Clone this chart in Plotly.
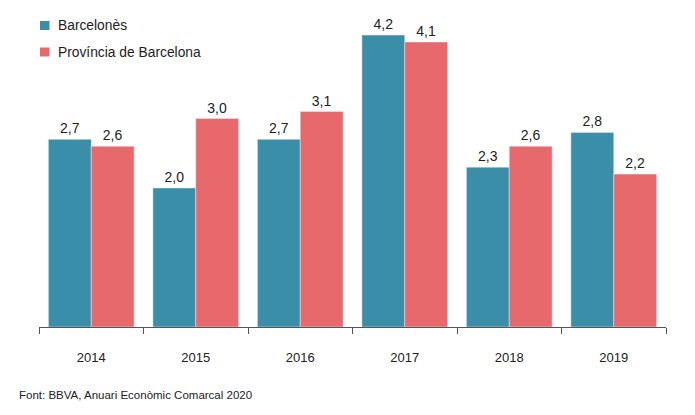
import plotly.graph_objects as go

# Dades
years = ["2014", "2015", "2016", "2017", "2018", "2019"]
barcelones = [2.7, 2.0, 2.7, 4.2, 2.3, 2.8]
provincia = [2.6, 3.0, 3.1, 4.1, 2.6, 2.2]
series_names = ["Barcelonès", "Província de Barcelona"]
source_text = "Font: BBVA, Anuari Econòmic Comarcal 2020"

teal = "#3a8ea7"
salmon = "#e8696b"
font_family = "Liberation Sans, Arial, sans-serif"

# the page body adds an 8px offset, so the figure is drawn 8px smaller
OFF = 8
W, H = 695 - OFF, 415 - OFF
ML, MR, MT, MB = 0, 29, 0, 88
PW, PH = W - ML - MR, H - MT - MB


def px(x, y):
    # window pixel position -> paper coords
    return (x - OFF - ML) / PW, (H - MB - (y - OFF)) / PH


fig = go.Figure()

for name, vals, col in zip(series_names, [barcelones, provincia], [teal, salmon]):
    fig.add_trace(go.Bar(x=years, y=vals, name=name, marker_color=col,
                         texttemplate="%{y:.1f}", textposition="outside", cliponaxis=False,
                         textfont=dict(size=14, color="#222")))

# legend drawn by hand (squares + text) to match the original spacing
shapes = []
annotations = []
for i, (name, col) in enumerate(zip(series_names, [teal, salmon])):
    yc = 25.5 + i * 26.5
    x0, y0 = px(40, yc - 4.5)
    x1, y1 = px(49.5, yc + 4.5)
    shapes.append(dict(type="rect", xref="paper", yref="paper", x0=x0, x1=x1, y0=y1, y1=y0,
                       fillcolor=col, line=dict(width=0)))
    tx, ty = px(56, yc)
    annotations.append(dict(text=name, x=tx, y=ty, xref="paper", yref="paper", showarrow=False,
                            xanchor="left", yanchor="middle", font=dict(size=13.8, color="#222")))

sx, sy = px(17, 395)
annotations.append(dict(text=source_text, x=sx, y=sy, xref="paper", yref="paper", showarrow=False,
                        xanchor="left", yanchor="middle", font=dict(size=11.5, color="#222")))

fig.update_layout(
    width=W, height=H,
    margin=dict(l=ML, r=MR, t=MT, b=MB),
    plot_bgcolor="white", paper_bgcolor="white",
    separators=",.",
    barmode="group", bargap=0.18, bargroupgap=0,
    font=dict(family=font_family, color="#222"),
    showlegend=False,
    shapes=shapes,
    annotations=annotations,
)

fig.update_xaxes(domain=[(39 - OFF) / PW, 1], showline=True, linecolor="#555", linewidth=1,
                 ticks="outside", tickson="boundaries", ticklen=6, tickcolor="#555",
                 tickfont=dict(size=13, color="#222"), ticklabelstandoff=18)
fig.update_yaxes(range=[0, PH / 69.5], visible=False, showgrid=False)

fig.write_html("out.html")
